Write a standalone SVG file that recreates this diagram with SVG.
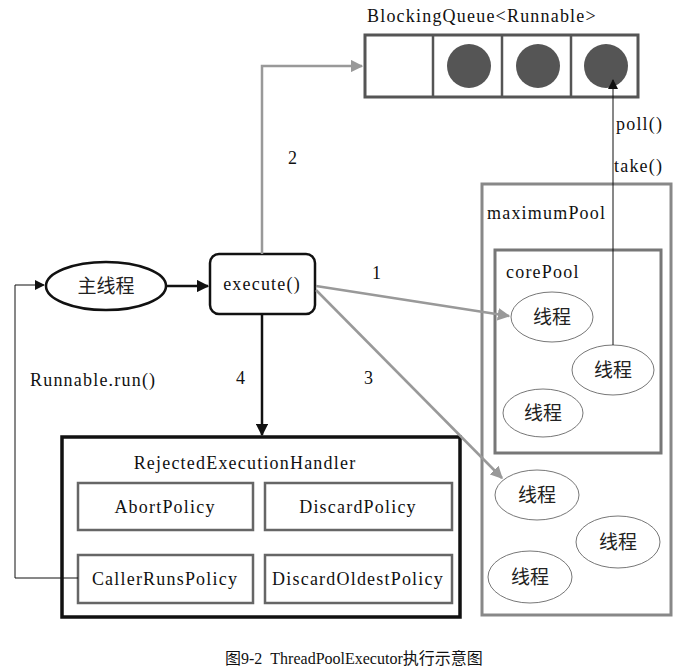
<svg xmlns="http://www.w3.org/2000/svg" width="691" height="672" viewBox="0 0 691 672">
<defs>
<style>
.t{font-family:"Liberation Serif","Noto Sans CJK SC",serif;font-size:18px;letter-spacing:1.2px;fill:#111}
.c{font-family:"Noto Sans CJK SC","Liberation Serif",sans-serif;font-size:19px;fill:#222}
.g{stroke:#999;stroke-width:2.5;fill:none}
.k{stroke:#111;stroke-width:2.5;fill:none}
.th{fill:#fff;stroke:#777;stroke-width:1}
.pol{fill:#fff;stroke:#666;stroke-width:2.5}
</style>
<marker id="ag" viewBox="0 0 10 10" refX="9" refY="5" markerWidth="5" markerHeight="5" orient="auto"><path d="M0,0 L10,5 L0,10 z" fill="#999"/></marker>
<marker id="ak" viewBox="0 0 10 10" refX="9" refY="5" markerWidth="5" markerHeight="5" orient="auto"><path d="M0,0 L10,5 L0,10 z" fill="#111"/></marker>
<marker id="ak2" viewBox="0 0 10 10" refX="9" refY="5" markerWidth="10" markerHeight="10" orient="auto"><path d="M0,0 L10,5 L0,10 z" fill="#111"/></marker>
</defs>
<rect width="691" height="672" fill="#fff"/>

<g id="queue">
<text class="t" x="367" y="22">BlockingQueue&lt;Runnable&gt;</text>
<rect x="365" y="35" width="273" height="62" fill="#fff" stroke="#555" stroke-width="3"/>
<line x1="433" y1="35" x2="433" y2="97" stroke="#555" stroke-width="2.5"/>
<line x1="502" y1="35" x2="502" y2="97" stroke="#555" stroke-width="2.5"/>
<line x1="571" y1="35" x2="571" y2="97" stroke="#555" stroke-width="2.5"/>
<circle cx="469" cy="66" r="22" fill="#555"/>
<circle cx="538" cy="66" r="22" fill="#555"/>
<circle cx="606" cy="66" r="22" fill="#555"/>
</g>

<g id="maximumPool">
<rect x="482" y="184" width="189" height="431" fill="#fff" stroke="#888" stroke-width="3"/>
<text class="t" x="487" y="219">maximumPool</text>
</g>
<g id="corePool">
<rect x="495" y="250" width="166" height="203" fill="#fff" stroke="#777" stroke-width="3"/>
<text class="t" x="506" y="278">corePool</text>
</g>
<g id="t1"><ellipse class="th" cx="552" cy="317" rx="41" ry="25"/><text class="c" x="552" y="324" text-anchor="middle">线程</text></g>
<g id="t2"><ellipse class="th" cx="613" cy="370" rx="41" ry="25"/><text class="c" x="613" y="377" text-anchor="middle">线程</text></g>
<g id="t3"><ellipse class="th" cx="543" cy="413" rx="40" ry="24"/><text class="c" x="543" y="420" text-anchor="middle">线程</text></g>
<g id="t4"><ellipse class="th" cx="537" cy="495" rx="42" ry="25"/><text class="c" x="537" y="502" text-anchor="middle">线程</text></g>
<g id="t5"><ellipse class="th" cx="618" cy="542" rx="42" ry="26"/><text class="c" x="618" y="549" text-anchor="middle">线程</text></g>
<g id="t6"><ellipse class="th" cx="530" cy="577" rx="42" ry="26"/><text class="c" x="530" y="584" text-anchor="middle">线程</text></g>

<g id="main">
<ellipse cx="106" cy="286" rx="60" ry="24" fill="#fff" stroke="#111" stroke-width="2.5"/>
<text class="c" x="106" y="293" text-anchor="middle" font-size="20">主线程</text>
</g>
<g id="execute">
<rect x="210" y="254" width="105" height="60" rx="9" fill="#fff" stroke="#111" stroke-width="2.5"/>
<text class="t" x="262" y="290" text-anchor="middle">execute()</text>
</g>

<g id="handler">
<rect x="62" y="437" width="398" height="180" fill="#fff" stroke="#111" stroke-width="3.5"/>
<text class="t" x="245" y="469" text-anchor="middle">RejectedExecutionHandler</text>
<rect class="pol" x="78" y="483" width="175" height="47"/>
<text class="t" x="165" y="513" text-anchor="middle">AbortPolicy</text>
<rect class="pol" x="265" y="483" width="187" height="47"/>
<text class="t" x="358" y="513" text-anchor="middle">DiscardPolicy</text>
<rect class="pol" x="78" y="555" width="175" height="48"/>
<text class="t" x="165" y="585" text-anchor="middle">CallerRunsPolicy</text>
<rect class="pol" x="265" y="555" width="187" height="48"/>
<text class="t" x="358" y="585" text-anchor="middle">DiscardOldestPolicy</text>
</g>

<g id="connectors">
<line x1="166" y1="286" x2="208" y2="286" class="k" marker-end="url(#ak)"/>
<polyline points="262,254 262,66 362,66" class="g" marker-end="url(#ag)"/>
<line x1="316" y1="286" x2="509" y2="316" class="g" marker-end="url(#ag)"/>
<line x1="316" y1="290" x2="502" y2="478" class="g" marker-end="url(#ag)"/>
<line x1="262" y1="314" x2="262" y2="435" class="k" marker-end="url(#ak)"/>
<polyline points="78,578 15,578 15,285 44,285" stroke="#111" stroke-width="1" fill="none" marker-end="url(#ak2)"/>
<line x1="613" y1="345" x2="613" y2="80" stroke="#111" stroke-width="1" marker-end="url(#ak2)"/>
<text class="t" x="288" y="164">2</text>
<text class="t" x="372" y="279">1</text>
<text class="t" x="364" y="384">3</text>
<text class="t" x="236" y="384">4</text>
<text class="t" x="30" y="386">Runnable.run()</text>
<text class="t" x="616" y="130">poll()</text>
<text class="t" x="614" y="172">take()</text>
</g>

<text x="225" y="664" xml:space="preserve" font-family="'Liberation Serif','Noto Sans CJK SC',serif" font-size="16" fill="#111">图9-2  ThreadPoolExecutor执行示意图</text>
</svg>
